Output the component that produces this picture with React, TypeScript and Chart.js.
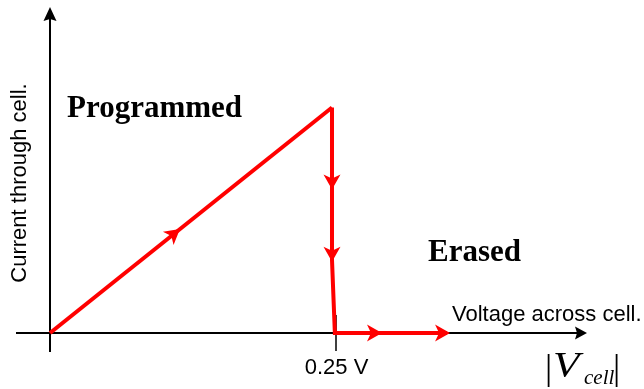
import React, { useEffect, useRef } from "react";
import { Chart, registerables } from "chart.js";

Chart.register(...registerables);

// Conceptual I–V data (voltage in V, current in arbitrary units)
const programV = [0, 0.2465];
const programI = [0, 1];
const eraseV = [0.2465, 0.2465, 0.249, 0.347];
const eraseI = [1, 0.324, 0, 0];

// arrowheads on the curve (tip positions) and directions (dV, dI)
const arrowV = [0.1136, 0.2465, 0.2465, 0.2902, 0.3497];
const arrowI = [0.461, 0.636, 0.316, 0, 0];
const arrowDV = [0.2465, 0, 0, 1, 1];
const arrowDI = [1, -1, -1, 0, 0];

const tickValues = [0.25];
const tickLabels = ["0.25 V"];

const X_MIN = -50 / 1144;
const X_MAX = 594 / 1144;
const Y_MIN = -56 / 225.5;
const Y_MAX = 333 / 225.5;

function drawArrow(
  ctx: CanvasRenderingContext2D,
  x: number,
  y: number,
  ang: number,
  len: number,
  hw: number,
  notch: number,
  color: string
) {
  ctx.save();
  ctx.translate(x, y);
  ctx.rotate(ang);
  ctx.beginPath();
  ctx.moveTo(0, 0);
  ctx.lineTo(-len, -hw);
  ctx.lineTo(-len + notch, 0);
  ctx.lineTo(-len, hw);
  ctx.closePath();
  ctx.fillStyle = color;
  ctx.fill();
  ctx.restore();
}

const decorPlugin = {
  id: "decor",
  beforeDatasetsDraw(chart: any) {
    const ctx: CanvasRenderingContext2D = chart.ctx;
    const xs = chart.scales.x;
    const ys = chart.scales.y;
    const x0 = xs.getPixelForValue(0);
    const y0 = ys.getPixelForValue(0);
    ctx.save();
    ctx.strokeStyle = "#000";
    ctx.lineWidth = 2;
    // x axis
    ctx.beginPath();
    ctx.moveTo(16, y0);
    ctx.lineTo(578, y0);
    ctx.stroke();
    drawArrow(ctx, 587, y0, 0, 12, 6.5, 2, "#000");
    // y axis
    ctx.beginPath();
    ctx.moveTo(x0, 352);
    ctx.lineTo(x0, 18);
    ctx.stroke();
    drawArrow(ctx, x0, 7, -Math.PI / 2, 14, 6.5, 2, "#000");
    // ticks
    ctx.lineWidth = 1.5;
    tickValues.forEach((v, i) => {
      const px = xs.getPixelForValue(v);
      ctx.beginPath();
      ctx.moveTo(px, y0 - 18);
      ctx.lineTo(px, y0 + 18);
      ctx.stroke();
      ctx.fillStyle = "#000";
      ctx.font = '22px "Liberation Sans", Arial, sans-serif';
      ctx.textAlign = "center";
      ctx.textBaseline = "alphabetic";
      ctx.fillText(tickLabels[i], px + 0.5, 374);
    });
    ctx.restore();
  },
  afterDatasetsDraw(chart: any) {
    const ctx: CanvasRenderingContext2D = chart.ctx;
    const xs = chart.scales.x;
    const ys = chart.scales.y;
    ctx.save();
    arrowV.forEach((v, i) => {
      const px = xs.getPixelForValue(v);
      const py = ys.getPixelForValue(arrowI[i]);
      const dx = xs.getPixelForValue(v + arrowDV[i]) - px;
      const dy = ys.getPixelForValue(arrowI[i] + arrowDI[i]) - py;
      drawArrow(ctx, px, py, Math.atan2(dy, dx), 15, 8.5, 4, "#ff0000");
    });

    ctx.fillStyle = "#000";
    ctx.textBaseline = "alphabetic";
    ctx.textAlign = "left";
    ctx.font = 'bold 31px "Liberation Serif", "Times New Roman", serif';
    ctx.fillText("Programmed", 67, 117);
    ctx.fillText("Erased", 428, 261);

    ctx.font = '22px "Liberation Sans", Arial, sans-serif';
    ctx.fillText("Voltage across cell.", 452, 321);

    ctx.save();
    ctx.translate(26, 183);
    ctx.rotate(-Math.PI / 2);
    ctx.textAlign = "center";
    ctx.fillText("Current through cell.", 0, 0);
    ctx.restore();

    // |V_cell|
    ctx.font = '36px "Liberation Serif", "Times New Roman", serif';
    ctx.fillText("|", 545, 379);
    ctx.fillText("|", 613, 379);
    ctx.save();
    ctx.translate(553, 377);
    ctx.scale(1.2, 1);
    ctx.font = 'italic 36px "Liberation Serif", "Times New Roman", serif';
    ctx.fillText("V", 0, 0);
    ctx.restore();
    ctx.font = 'italic 21px "Liberation Serif", "Times New Roman", serif';
    ctx.fillText("cell", 584, 384);
    ctx.restore();
  },
};

export default function App() {
  const ref = useRef<HTMLCanvasElement>(null);
  useEffect(() => {
    document.body.style.margin = "0";
    const canvas = ref.current!;
    const chart = new Chart(canvas, {
      type: "scatter",
      data: {
        datasets: [
          {
            label: "Programmed",
            data: programV.map((v, i) => ({ x: v, y: programI[i] })),
            showLine: true,
            borderColor: "#ff0000",
            borderWidth: 4,
            pointRadius: 0,
            borderJoinStyle: "miter",
          },
          {
            label: "Erased",
            data: eraseV.map((v, i) => ({ x: v, y: eraseI[i] })),
            showLine: true,
            borderColor: "#ff0000",
            borderWidth: 4,
            pointRadius: 0,
            borderJoinStyle: "miter",
          },
        ],
      },
      options: {
        responsive: false,
        animation: false,
        layout: { padding: 0 },
        plugins: {
          legend: { display: false },
          tooltip: { enabled: false },
        },
        scales: {
          x: { type: "linear", min: X_MIN, max: X_MAX, display: false },
          y: { type: "linear", min: Y_MIN, max: Y_MAX, display: false },
        },
      },
      plugins: [decorPlugin],
    });
    return () => chart.destroy();
  }, []);
  return (
    <div style={{ width: 644, height: 389, background: "#fff" }}>
      <canvas ref={ref} width={644} height={389} style={{ display: "block" }} />
    </div>
  );
}
